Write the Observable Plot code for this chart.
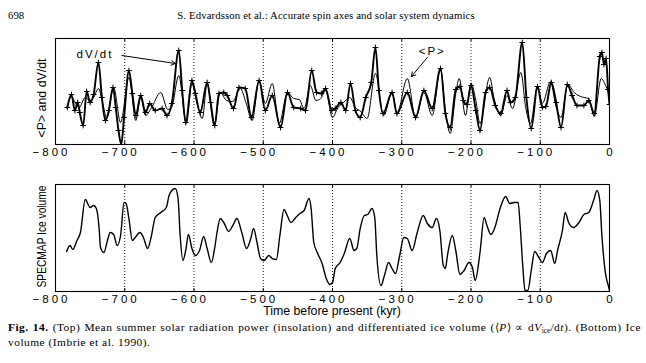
<!DOCTYPE html>
<html><head><meta charset="utf-8">
<script src="https://cdn.jsdelivr.net/npm/d3@7"></script>
<script src="https://cdn.jsdelivr.net/npm/@observablehq/plot@0.6"></script>
<style>
body{margin:0;background:#fff;}
#page{position:relative;width:646px;height:363px;overflow:hidden;font-family:"Liberation Serif","Times New Roman",serif;color:#000;}
.hdr{position:absolute;top:9px;font-size:10.8px;line-height:13px;white-space:nowrap;}
#pnum{left:8px;}
#title{left:0;width:652px;text-align:center;letter-spacing:0.1px;}
.panel{position:absolute;left:0;}
#top{top:30px;} #bot{top:176px;}
#xlab{position:absolute;top:305px;left:0;width:664px;text-align:center;font-family:"Liberation Sans",Arial,sans-serif;font-size:12.3px;line-height:13px;white-space:nowrap;}
.cap{position:absolute;left:8px;width:633px;font-size:11.4px;line-height:14px;letter-spacing:0.5px;}
#cap1{top:320px;text-align:justify;text-align-last:justify;}
#cap2{top:335px;}
sub{font-size:7.5px;line-height:0;vertical-align:-2px;letter-spacing:0;}
</style></head>
<body><div id="page">
<div class="hdr" id="pnum">698</div>
<div class="hdr" id="title">S. Edvardsson et al.: Accurate spin axes and solar system dynamics</div>
<div class="panel" id="top"></div>
<div class="panel" id="bot"></div>
<div id="xlab"></div>
<div class="cap" id="cap1"><b>Fig. 14.</b> (Top) Mean summer solar radiation power (insolation) and differentiated ice volume (⟨<i>P</i>⟩ ∝ d<i>V</i><sub>ice</sub>/d<i>t</i>). (Bottom) Ice</div>
<div class="cap" id="cap2">volume (Imbrie et al. 1990).</div>
</div>
<script>
// ---- data (time in kyr before present, values in arbitrary units) ----
const xTicks = [-800, -700, -600, -500, -400, -300, -200, -100, 0];
const gridTicks = [-700, -600, -500, -400, -300, -200, -100];

// <P> : mean summer insolation (thin line)
const insolation = [[-783,37],[-777,48],[-771,41],[-766,37],[-757,47],[-751,44],[-745,47],[-738,56],[-732,42],[-726,26],[-716,57],[-706,22],[-694,67],[-684,24],[-677,47],[-670,29],[-662,36],[-648,52],[-638,35],[-632,38],[-622,69],[-611,21],[-603,61],[-596,42],[-588,26],[-581,61],[-571,19],[-562,52],[-553,44],[-544,43],[-533,56],[-525,42],[-516,24],[-506,64],[-497,41],[-487,61],[-477,21],[-465,52],[-456,46],[-448,45],[-441,36],[-432,59],[-424,44],[-417,46],[-410,54],[-400,27],[-392,37],[-384,42],[-375,47],[-367,37],[-359,33],[-350,26],[-338,71],[-326,29],[-314,52],[-307,31],[-292,66],[-280,27],[-268,52],[-256,29],[-244,76],[-237,34],[-230,11],[-222,51],[-217,66],[-208,29],[-200,61],[-193,44],[-187,21],[-173,67],[-167,47],[-157,29],[-148,49],[-140,36],[-128,72],[-121,37],[-114,21],[-104,59],[-97,41],[-85,63],[-78,40],[-70,27],[-60,60],[-51,52],[-37,47],[-30,46],[-22,28],[-12,66],[-5,58],[0,50]];

// dV/dt : differentiated ice volume (thick line with markers)
const dVdt = [[-783,37],[-777,50],[-772,34],[-768,42],[-765,32],[-760,19],[-755,53],[-750,42],[-745,50],[-738,82],[-733,47],[-728,24],[-723,34],[-717,57],[-713,37],[-709,14],[-705,0],[-701,27],[-694,74],[-689,51],[-684,29],[-677,49],[-670,32],[-664,41],[-656,34],[-646,36],[-639,29],[-632,41],[-622,94],[-617,54],[-612,22],[-603,64],[-598,51],[-591,32],[-581,62],[-576,42],[-570,19],[-564,51],[-557,52],[-552,49],[-543,36],[-535,57],[-526,56],[-517,27],[-506,64],[-497,34],[-487,49],[-475,17],[-465,52],[-456,37],[-446,36],[-439,34],[-430,74],[-423,52],[-416,51],[-410,56],[-401,34],[-396,36],[-388,42],[-381,34],[-374,61],[-367,34],[-360,27],[-352,47],[-344,62],[-338,97],[-333,54],[-327,31],[-314,52],[-307,31],[-292,52],[-280,27],[-268,54],[-256,36],[-244,76],[-237,31],[-230,17],[-222,55],[-216,58],[-211,44],[-206,40],[-200,59],[-193,34],[-187,14],[-179,52],[-173,57],[-165,39],[-157,31],[-148,54],[-143,42],[-136,47],[-126,102],[-120,47],[-113,16],[-104,58],[-97,37],[-92,38],[-84,62],[-77,42],[-70,17],[-61,60],[-54,49],[-47,39],[-37,39],[-30,44],[-22,31],[-14,88],[-11,92],[-8,80],[-5,86],[-2,55],[0,40]];

// SPECMAP ice volume (bottom panel)
const iceVolume = [[-784,40],[-779,46],[-775,42],[-769,51],[-764,59],[-757,92],[-750,84],[-745,86],[-741,83],[-737,63],[-735,44],[-730,39],[-725,51],[-721,59],[-716,57],[-711,46],[-706,56],[-701,89],[-698,88],[-694,73],[-689,51],[-685,54],[-678,59],[-673,54],[-667,43],[-662,54],[-656,74],[-648,79],[-640,84],[-636,96],[-632,101],[-627,103],[-623,93],[-620,56],[-616,31],[-612,41],[-608,57],[-603,43],[-598,36],[-592,41],[-586,55],[-581,43],[-575,29],[-570,44],[-567,58],[-562,73],[-557,69],[-550,60],[-544,66],[-538,73],[-531,59],[-524,43],[-518,53],[-514,63],[-509,49],[-504,33],[-499,31],[-492,36],[-487,33],[-481,32],[-476,56],[-470,82],[-466,77],[-460,69],[-453,74],[-447,78],[-441,81],[-434,93],[-431,84],[-427,49],[-422,39],[-415,28],[-409,13],[-404,7],[-400,9],[-396,23],[-389,29],[-383,38],[-375,53],[-369,41],[-365,43],[-360,63],[-354,76],[-349,77],[-343,83],[-339,74],[-336,36],[-330,6],[-325,16],[-319,29],[-314,23],[-309,18],[-303,36],[-297,54],[-292,53],[-285,41],[-278,58],[-269,76],[-263,68],[-256,64],[-250,73],[-245,61],[-240,26],[-237,23],[-234,36],[-227,56],[-222,41],[-216,17],[-210,21],[-203,29],[-198,24],[-194,11],[-187,39],[-181,74],[-177,66],[-171,57],[-166,63],[-158,83],[-150,95],[-144,88],[-138,89],[-132,89],[-129,66],[-125,23],[-122,1],[-118,1],[-113,21],[-108,40],[-102,34],[-97,29],[-91,38],[-85,41],[-79,28],[-75,41],[-68,61],[-64,79],[-59,69],[-52,64],[-44,69],[-37,77],[-30,79],[-23,91],[-18,101],[-14,91],[-11,56],[-6,19],[-1,4],[0,1]];

// annotations (data coordinates)
const noteLabels = [{label: "dV/dt", t: -743, v: 90}, {label: "<P>", t: -256, v: 93}];
const noteArrows = [{t1: -704, v1: 89, t2: -627, v2: 81}, {t1: -263, v1: 87, t2: -286, v2: 68}];

const yLabelTop = "<P> and dV/dt";
const yLabelBottom = "SPECMAP Ice volume";
const xLabel = "Time before present (kyr)";

// ---- drawing ----
const toRows = arr => arr.map(([t, v]) => ({t, v}));
const sans = "Liberation Sans, Arial, Helvetica, sans-serif";
const minus = d => d < 0 ? "\u2212" + Math.abs(d) : String(d);

function panel({H, mt, mb, ymax, marks, ylabel, ylabelDy, ylabelLen}) {
  const fh = H - mt - mb;
  const svg = Plot.plot({
    width: 646, height: H,
    marginLeft: 55, marginRight: 37, marginTop: mt, marginBottom: mb,
    x: {domain: [-800, 0], axis: null},
    y: {domain: [0, ymax], axis: null},
    style: {fontFamily: sans, background: "white", color: "black", overflow: "visible"},
    marks: [
      Plot.ruleX(gridTicks, {x: d => d, stroke: "black", strokeWidth: 0.9, strokeDasharray: "1,2"}),
      ...marks,
      Plot.frame({stroke: "black", strokeWidth: 1.1}),
      Plot.tickX(xTicks, {x: d => d, insetBottom: fh - 3, stroke: "black"}),
      Plot.tickX(xTicks, {x: d => d, insetTop: fh - 3, stroke: "black"}),
      Plot.text(xTicks.filter(d => d < 0), {x: d => d, text: minus, frameAnchor: "bottom", lineAnchor: "top", dy: 3, dx: -4, fontSize: 11.5}),
      Plot.text(xTicks.filter(d => d >= 0), {x: d => d, text: minus, frameAnchor: "bottom", lineAnchor: "top", dy: 3, dx: 1.5, fontSize: 11.5}),
      Plot.text([ylabel], {text: d => d, frameAnchor: "left", textAnchor: "middle", lineAnchor: "middle", rotate: -90, dx: -13.5, dy: ylabelDy, fontSize: 13.5})
    ]
  });
  const s = d3.select(svg);
  s.selectAll("text").filter(function() {
    return /^[\u22120-9]+$/.test(this.textContent);
  }).attr("letter-spacing", "3");
  s.selectAll("text").filter(function() {
    return this.textContent === ylabel;
  }).attr("textLength", ylabelLen).attr("lengthAdjust", "spacingAndGlyphs");
  return svg;
}

const topPanel = panel({
  H: 140, mt: 8, mb: 26, ymax: 106,
  ylabel: yLabelTop, ylabelDy: 6.5, ylabelLen: 79,
  marks: [
    Plot.line(toRows(insolation), {x: "t", y: "v", curve: "monotone-x", stroke: "black", strokeWidth: 1, clip: true}),
    Plot.line(toRows(dVdt), {x: "t", y: "v", curve: "monotone-x", stroke: "black", strokeWidth: 1.9, clip: true}),
    Plot.dot(toRows(dVdt), {x: "t", y: "v", symbol: "plus", r: 2, stroke: "black", strokeWidth: 1, clip: true}),
    Plot.arrow(noteArrows, {x1: "t1", y1: "v1", x2: "t2", y2: "v2", stroke: "black", strokeWidth: 1, headLength: 7}),
    Plot.text(noteLabels, {x: "t", y: "v", text: "label", fontSize: 11.5})
  ]
});
d3.select(topPanel).selectAll("text").filter(function() {
  return this.textContent === "dV/dt" || this.textContent === "<P>";
}).attr("letter-spacing", "2");
document.getElementById("top").appendChild(topPanel);

const botPanel = panel({
  H: 145, mt: 8, mb: 30, ymax: 107,
  ylabel: yLabelBottom, ylabelDy: -1.5, ylabelLen: 102,
  marks: [
    Plot.line(toRows(iceVolume), {x: "t", y: "v", curve: "monotone-x", stroke: "black", strokeWidth: 1.4, clip: true})
  ]
});
document.getElementById("bot").appendChild(botPanel);
document.getElementById("xlab").textContent = xLabel;
</script>
</body></html>
